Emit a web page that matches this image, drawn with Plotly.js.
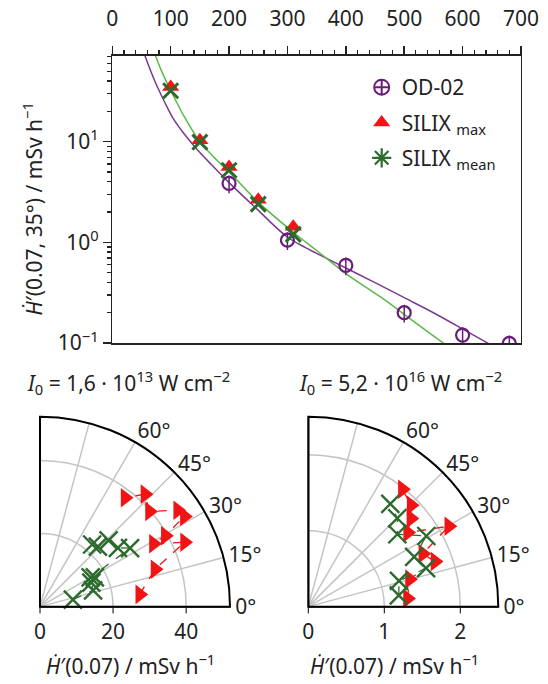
<!DOCTYPE html>
<html>
<head>
<meta charset="utf-8">
<script src="https://cdn.plot.ly/plotly-3.0.1.min.js"></script>
<style>html,body{margin:0;padding:0;background:#fff}#chart{width:548px;height:684px}</style>
</head>
<body>
<div id="chart"></div>
<script>
// ---- top panel data ----
const odX = [200, 300, 400, 500, 600, 680];
const odY = [3.85, 1.05, 0.59, 0.20, 0.12, 0.099];
const silixX = [100, 150, 200, 250, 310];
const silixMax = [35, 10.3, 5.6, 2.65, 1.43];
const silixMean = [32, 9.9, 5.2, 2.4, 1.2];
// fit curves
const fitOdX = [56, 66, 76, 90, 104.5, 120, 141.6, 170, 200, 247, 298, 330, 350, 400, 450, 500, 550, 600, 640, 650];
const fitOdY = [71.5, 50.1, 36.3, 24.5, 16.9, 12.6, 8.85, 5.89, 3.92, 2.16, 1.15, 0.89, 0.776, 0.556, 0.398, 0.282, 0.20, 0.138, 0.102, 0.095];
const fitSiX = [74, 86, 100, 125, 150, 175, 200, 250, 310, 350, 400, 460, 515, 567, 575];
const fitSiY = [71.5, 47.9, 32.4, 17.0, 10.0, 6.92, 5.01, 2.51, 1.26, 0.83, 0.49, 0.285, 0.166, 0.10, 0.093];
const xTicks = [0, 100, 200, 300, 400, 500, 600, 700];
const xMinor = [20,40,60,80,120,140,160,180,220,240,260,280,320,340,360,380,420,440,460,480,520,540,560,580,620,640,660,680];
const yTickVals = [0.1, 1, 10];
const yTickText = ['10<sup>−1</sup>', '10<sup>0</sup>', '10<sup>1</sup>'];
const yMinor = [0.2,0.3,0.4,0.5,0.6,0.7,0.8,0.9,2,3,4,5,6,7,8,9,20,30,40,50,60,70];

// ---- polar panels data ----
const leftMaxTheta = [7, 18, 24, 29, 29.5, 32, 35, 41, 47, 52];
const leftMaxR     = [27.5, 33.1, 43.3, 35.5, 39.4, 46.6, 46.0, 39.7, 42.1, 37.8];
const leftMeanTheta = [12, 17, 25, 28, 30, 33, 37, 44, 46, 50];
const leftMeanR     = [9.2, 15.2, 15.5, 17.0, 16.0, 29.4, 26.7, 26.1, 22.8, 22.2];
const rightMaxTheta = [4.7, 15.2, 19.6, 24.8, 29.8, 36.7, 40.7, 44.6, 51.3];
const rightMaxR     = [1.31, 1.38, 1.77, 1.66, 2.13, 1.63, 1.78, 1.90, 1.98];
const rightMeanTheta = [7.1, 15.8, 18.1, 25.2, 30.9, 39.1, 44.8, 51.4];
const rightMeanR     = [1.20, 1.24, 1.63, 1.54, 1.81, 1.51, 1.65, 1.73];
const leftRange = [0, 52];
const rightRange = [0, 2.5];
const leftRTicks = [0, 20, 40];
const rightRTicks = [0, 1, 2];
const angTicks = [0, 15, 30, 45, 60, 75, 90];
const angText = ['0°', '15°', '30°', '45°', '60°', '', ''];

const FONT = 'Noto Sans, Open Sans, DejaVu Sans, sans-serif';
const FS = 21;
const TXT = '#222';
const PURPLE = '#6a1b7a', PURPLE_L = '#7b3a92';
const RED = '#f01414';
const GREEN = '#2c6a2e', GREEN_L = '#5cb84a';

const traces = [
  {x: fitOdX, y: fitOdY, mode: 'lines', line: {color: PURPLE_L, width: 1.5, shape: 'spline', smoothing: 1}, showlegend: false, hoverinfo: 'skip'},
  {x: fitSiX, y: fitSiY, mode: 'lines', line: {color: GREEN_L, width: 1.5, shape: 'spline', smoothing: 1}, showlegend: false, hoverinfo: 'skip'},
  {x: odX, y: odY, mode: 'markers', name: 'OD-02', showlegend: false,
   marker: {symbol: 'circle-open', size: 13, color: PURPLE, line: {width: 2.2, color: PURPLE}},
   error_y: {type: 'percent', value: 20, color: PURPLE, thickness: 1.5, width: 0}},
  {x: silixX, y: silixMax, mode: 'markers', name: 'SILIX <sub>max</sub>', showlegend: false,
   marker: {symbol: 'triangle-up', size: 15, color: RED}},
  {x: silixX, y: silixMean, mode: 'markers', name: 'SILIX <sub>mean</sub>', showlegend: false,
   marker: {symbol: 'x-thin', size: 15, color: GREEN, line: {width: 3, color: GREEN}}},
  // legend entries
  {x: [null], y: [null], mode: 'markers', name: 'OD-02', legendgroup: 'a',
   marker: {symbol: 'circle-cross-open', size: 15, color: PURPLE, line: {width: 2, color: PURPLE}}},
  {x: [null], y: [null], mode: 'markers', name: 'SILIX <sub>max</sub>', legendgroup: 'b',
   marker: {symbol: 'triangle-up', size: 15, color: RED}},
  {x: [null], y: [null], mode: 'markers', name: 'SILIX <sub>mean</sub>', legendgroup: 'c',
   marker: {symbol: 'asterisk-open', size: 16, color: GREEN, line: {width: 2.2, color: GREEN}}},
  // polar left
  {type: 'scatterpolar', subplot: 'polar', r: leftRange, theta: [90, 90], mode: 'lines', line: {color: '#000', width: 2}, showlegend: false, hoverinfo: 'skip'},
  {type: 'scatterpolar', subplot: 'polar', r: leftMaxR, theta: leftMaxTheta, mode: 'lines+markers', showlegend: false,
   line: {color: RED, width: 1.3, dash: 'dash'}, marker: {symbol: 'triangle-right', size: 17, color: RED}},
  {type: 'scatterpolar', subplot: 'polar', r: leftMeanR, theta: leftMeanTheta, mode: 'lines+markers', showlegend: false,
   line: {color: GREEN, width: 1.3, dash: 'dash'}, marker: {symbol: 'x-thin', size: 18, color: GREEN, line: {width: 2.4, color: GREEN}}},
  // polar right
  {type: 'scatterpolar', subplot: 'polar2', r: rightRange, theta: [90, 90], mode: 'lines', line: {color: '#000', width: 2}, showlegend: false, hoverinfo: 'skip'},
  {type: 'scatterpolar', subplot: 'polar2', r: rightMaxR, theta: rightMaxTheta, mode: 'lines+markers', showlegend: false,
   line: {color: RED, width: 1.3, dash: 'dash'}, marker: {symbol: 'triangle-right', size: 17, color: RED}},
  {type: 'scatterpolar', subplot: 'polar2', r: rightMeanR, theta: rightMeanTheta, mode: 'lines+markers', showlegend: false,
   line: {color: GREEN, width: 1.3, dash: 'dash'}, marker: {symbol: 'x-thin', size: 18, color: GREEN, line: {width: 2.4, color: GREEN}}}
];

function polarCfg(domainX, range, rticks) {
  return {
    domain: {x: domainX, y: [0.113, 0.391]},
    sector: [0, 90],
    bgcolor: '#fff',
    radialaxis: {range: range, tickvals: rticks, ticktext: rticks.map(String), angle: 0, side: 'clockwise',
      showline: true, linecolor: '#000', linewidth: 1.5, ticks: 'outside', ticklen: 6, tickcolor: '#000',
      gridcolor: '#c4c4c4', gridwidth: 1.5, tickfont: {size: FS, color: TXT, family: FONT}, tickangle: 0},
    angularaxis: {tickvals: angTicks, ticktext: angText, direction: 'counterclockwise', rotation: 0,
      showline: true, linecolor: '#000', linewidth: 2, ticks: '', gridcolor: '#c4c4c4', gridwidth: 1.5,
      tickfont: {size: FS, color: TXT, family: FONT}}
  };
}

function ann(text, x, y, angle, yanchor) {
  return {text: text, xref: 'paper', yref: 'paper', x: x, y: y, xanchor: 'center', yanchor: yanchor || 'middle',
    textangle: angle || 0, showarrow: false, font: {size: FS, color: TXT, family: FONT}};
}

const layout = {
  width: 548, height: 684,
  margin: {l: 0, r: 0, t: 0, b: 0},
  paper_bgcolor: '#fff', plot_bgcolor: '#fff',
  font: {family: FONT, size: FS, color: TXT},
  showlegend: true,
  legend: {x: 0.66, y: 0.902, xanchor: 'left', yanchor: 'top', bgcolor: 'rgba(0,0,0,0)',
    font: {size: FS, color: TXT, family: FONT}, tracegroupgap: 5},
  xaxis: {domain: [0.2049, 0.9507], range: [0, 700], side: 'top', anchor: 'y',
    tickvals: xTicks, ticks: 'outside', ticklen: 8, tickwidth: 1.5, tickcolor: '#222',
    showline: true, mirror: true, linecolor: '#222', linewidth: 1.5, showgrid: false, zeroline: false,
    tickfont: {size: FS, color: TXT}, automargin: false, ticklabelstandoff: 12,
    minor: {tickvals: xMinor, ticks: 'outside', ticklen: 4, tickwidth: 1.2, tickcolor: '#222', showgrid: false}},
  yaxis: {domain: [0.4985, 0.9186], type: 'log', range: [-1, 1.854], anchor: 'x',
    tickvals: yTickVals, ticktext: yTickText, ticks: 'outside', ticklen: 8, tickwidth: 1.5, tickcolor: '#222',
    showline: true, mirror: true, linecolor: '#222', linewidth: 1.5, showgrid: false, zeroline: false,
    tickfont: {size: FS, color: TXT}, automargin: false,
    minor: {tickvals: yMinor, ticks: 'outside', ticklen: 4, tickwidth: 1.2, tickcolor: '#222', showgrid: false}},
  polar: polarCfg([0.073, 0.4197], leftRange, leftRTicks),
  polar2: polarCfg([0.5626, 0.9093], rightRange, rightRTicks),
  annotations: [
    ann('<i>Ḣ</i>′(0.07, 35°) / mSv h<sup>−1</sup>', 0.06, 0.695, -90),
    ann('<i>I</i><sub>0</sub> = 1,6 · 10<sup>13</sup> W cm<sup>−2</sup>', 0.235, 0.4415),
    ann('<i>I</i><sub>0</sub> = 5,2 · 10<sup>16</sup> W cm<sup>−2</sup>', 0.73, 0.4415),
    ann('<i>Ḣ</i>′(0.07) / mSv h<sup>−1</sup>', 0.239, 0.003, 0, 'bottom'),
    ann('<i>Ḣ</i>′(0.07) / mSv h<sup>−1</sup>', 0.719, 0.003, 0, 'bottom')
  ]
};

Plotly.newPlot('chart', traces, layout, {staticPlot: true, displayModeBar: false});
</script>
</body>
</html>
